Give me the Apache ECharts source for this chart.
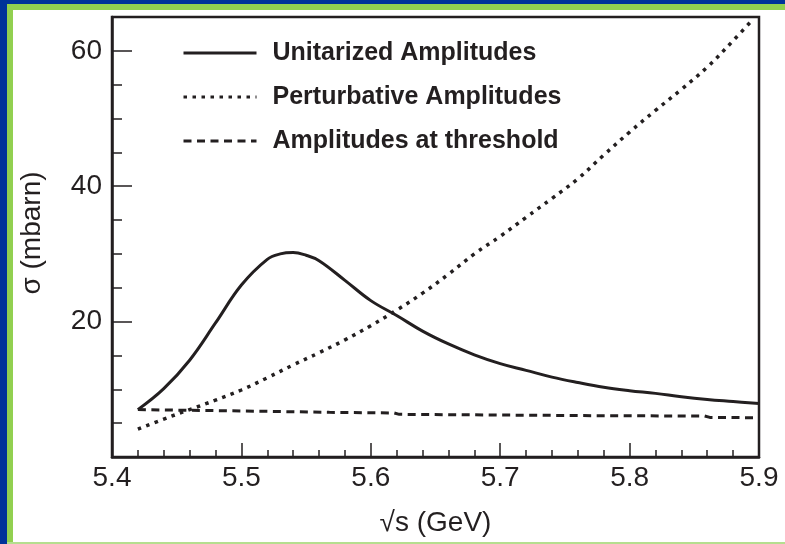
<!DOCTYPE html>
<html>
<head>
<meta charset="utf-8">
<script src="https://cdn.jsdelivr.net/npm/echarts@6/dist/echarts.min.js"></script>
<style>
html,body{margin:0;padding:0;background:#fff;}
#c{width:785px;height:544px;}
</style>
</head>
<body>
<div id="c"></div>
<script>
// ---- data ----
const seriesNames = ['Unitarized Amplitudes', 'Perturbative Amplitudes', 'Amplitudes at threshold'];
const xTickLabels = ['5.4', '5.5', '5.6', '5.7', '5.8', '5.9'];
const yTickLabels = ['20', '40', '60'];

const unitX = [5.42, 5.44, 5.46, 5.48, 5.50, 5.52, 5.53, 5.54, 5.55, 5.56, 5.58, 5.60, 5.62, 5.64, 5.66, 5.68, 5.70, 5.72, 5.74, 5.76, 5.78, 5.80, 5.82, 5.84, 5.86, 5.88, 5.90];
const unitY = [7.0, 10.1, 14.3, 19.8, 25.4, 29.2, 30.0, 30.2, 29.8, 29.0, 26.1, 23.1, 20.9, 18.6, 16.7, 15.1, 13.8, 12.8, 11.8, 11.0, 10.3, 9.8, 9.4, 8.9, 8.5, 8.2, 7.9];

const pertX = [5.42, 5.44, 5.46, 5.48, 5.50, 5.52, 5.54, 5.56, 5.58, 5.60, 5.62, 5.64, 5.66, 5.68, 5.70, 5.72, 5.74, 5.76, 5.78, 5.80, 5.82, 5.84, 5.86, 5.88, 5.895];
const pertY = [4.1, 5.6, 7.0, 8.4, 9.9, 11.7, 13.6, 15.4, 17.3, 19.4, 21.7, 24.2, 27.0, 30.0, 32.6, 35.4, 38.2, 41.1, 44.6, 48.0, 51.2, 54.3, 57.6, 61.5, 64.6];

const threshX = [5.42, 5.46, 5.50, 5.568, 5.618, 5.622, 5.70, 5.777, 5.858, 5.862, 5.9];
const threshY = [7.0, 6.9, 6.8, 6.6, 6.5, 6.3, 6.2, 6.1, 6.05, 5.85, 5.8];

const ink = '#231f20';
const FONT = '"Liberation Sans", Arial, Helvetica, sans-serif';

function pairs(xs, ys) { return xs.map((x, i) => [x, ys[i]]); }

const chart = echarts.init(document.getElementById('c'), null, {renderer: 'canvas'});
chart.setOption({
  animation: false,
  backgroundColor: '#ffffff',
  textStyle: {fontFamily: FONT},
  graphic: [
    {type: 'rect', shape: {x: 0, y: 0, width: 785, height: 4}, style: {fill: '#003399'}, silent: true},
    {type: 'rect', shape: {x: 0, y: 0, width: 7, height: 544}, style: {fill: '#003399'}, silent: true},
    {type: 'rect', shape: {x: 7, y: 4, width: 778, height: 6}, style: {fill: '#92d050'}, silent: true},
    {type: 'rect', shape: {x: 7, y: 4, width: 6, height: 540}, style: {fill: '#92d050'}, silent: true},
    {type: 'rect', shape: {x: 7, y: 542, width: 778, height: 2}, style: {fill: '#b5de8f'}, silent: true}
  ],
  grid: {
    left: 112, right: 26, top: 17, bottom: 87,
    show: true, borderColor: ink, borderWidth: 2.5, backgroundColor: 'transparent'
  },
  legend: {
    orient: 'vertical',
    left: 182, top: 38,
    padding: 0,
    itemWidth: 73, itemHeight: 14,
    itemGap: 14,
    data: seriesNames,
    selectedMode: false,
    itemStyle: {opacity: 0},
    lineStyle: {width: 3},
    textStyle: {fontFamily: FONT, fontSize: 25, fontWeight: 'bold', color: ink, lineHeight: 30, padding: [0, 0, 0, 11]}
  },
  xAxis: {
    type: 'value', min: 5.4, max: 5.9, interval: 0.1,
    name: '√s (GeV)', nameLocation: 'middle', nameGap: 52,
    nameTextStyle: {fontFamily: FONT, fontSize: 28, color: ink},
    axisLine: {lineStyle: {color: ink, width: 2.5}},
    axisTick: {inside: true, length: 14, lineStyle: {color: ink, width: 1.5}},
    minorTick: {show: true, splitNumber: 5, length: 7, lineStyle: {color: ink, width: 1.5}},
    splitLine: {show: false},
    axisLabel: {
      fontFamily: FONT, fontSize: 28, color: ink, margin: 7,
      formatter: function (v) { const s = v.toFixed(1); return xTickLabels.indexOf(s) >= 0 ? s : ''; }
    }
  },
  yAxis: [
    {
      type: 'value', min: 0, max: 65, interval: 5,
      name: 'σ (mbarn)', nameLocation: 'middle', nameGap: 66,
      nameTextStyle: {fontFamily: FONT, fontSize: 28, color: ink, padding: [0, 0, 0, 8]},
      axisLine: {lineStyle: {color: ink, width: 2.5}},
      axisTick: {inside: true, length: 10, lineStyle: {color: ink, width: 1.5}},
      splitLine: {show: false},
      axisLabel: {
        fontFamily: FONT, fontSize: 28, color: ink, margin: 10,
        formatter: function (v) { const s = String(Math.round(v)); return yTickLabels.indexOf(s) >= 0 ? s : ''; }
      }
    },
    {
      type: 'value', min: 0, max: 65, interval: 20, position: 'left',
      axisLine: {show: false},
      axisTick: {inside: true, length: 20, lineStyle: {color: ink, width: 1.5}},
      axisLabel: {show: false},
      splitLine: {show: false}
    }
  ],
  series: [
    {
      name: seriesNames[0], type: 'line', smooth: 0.4, symbol: 'none',
      data: pairs(unitX, unitY),
      itemStyle: {color: ink},
      lineStyle: {color: ink, width: 3, type: 'solid'}
    },
    {
      name: seriesNames[1], type: 'line', smooth: 0.4, symbol: 'none',
      data: pairs(pertX, pertY),
      itemStyle: {color: ink},
      lineStyle: {color: ink, width: 3.5, type: [3.5, 5.5]}
    },
    {
      name: seriesNames[2], type: 'line', smooth: false, symbol: 'none',
      data: pairs(threshX, threshY),
      itemStyle: {color: ink},
      lineStyle: {color: ink, width: 3, type: [8, 5.5]}
    }
  ]
});
</script>
</body>
</html>
